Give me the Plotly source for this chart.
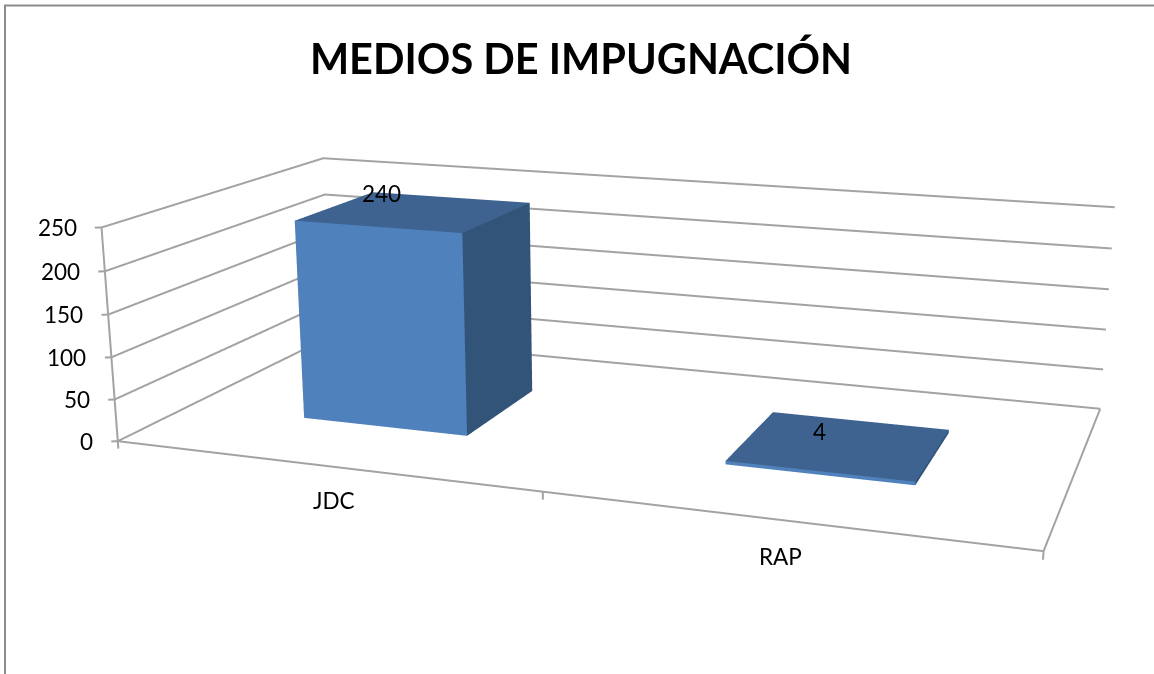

import numpy as np
import plotly.graph_objects as go

categories = ["JDC", "RAP"]
values = [240, 4]
z_ticks = [0, 50, 100, 150, 200, 250]
title_text = "MEDIOS DE IMPUGNACIÓN"

W, H = 1154, 674
# The reference is a long-lens view: plotly's fixed 45-degree field of view needs a tall scene,
# which is then slid up so that its optical centre lands where the reference has it.
FIG_W, FIG_H, TOP = 1289, 1570, 404

YAW, PITCH, ROLL = -0.3315, 0.2764, 0.0034
EYE = np.array([2.8921, -8.1067, 2.1564])
ASPECT = np.array([4.2165, 2.0596, 1.0])
FULL_LO, FULL_HI = np.array([0.0, 0.0, 0.0]), np.array([2.0, 1.0, 250.0])
SCENE_LO, SCENE_HI = np.array([-0.02, -0.01, -10.0]), np.array([2.02, 1.02, 255.0])
BAR_X, BAR_Y = (0.2973, 0.7020), (0.2986, 0.6860)

GRID, FRONT, SIDE, TOP_FACE = "#a3a3a3", "#4f81bd", "#325478", "#3e6390"
FONT = "Lato"

f = np.array([np.sin(YAW)*np.cos(PITCH), np.cos(YAW)*np.cos(PITCH), -np.sin(PITCH)])
r0 = np.array([np.cos(YAW), -np.sin(YAW), 0.0])
u0 = np.cross(r0, f)
v = -np.sin(ROLL)*r0 + np.cos(ROLL)*u0
unit = ASPECT/(FULL_HI-FULL_LO)
delta = ((SCENE_LO+SCENE_HI)/2-(FULL_LO+FULL_HI)/2)*unit
eye = EYE-delta
center = EYE+f*np.linalg.norm(EYE)-delta
aspect = unit*(SCENE_HI-SCENE_LO)

fig = go.Figure()
def line(xs, ys, zs):
    fig.add_trace(go.Scatter3d(x=xs, y=ys, z=zs, mode="lines", line=dict(color=GRID, width=4),
                               hoverinfo="skip", showlegend=False))
for t in z_ticks:
    line([0, 0, 2], [0, 1, 1], [t, t, t])
    line([0, -0.0122], [0, -0.0065], [t, t])
line([0, 0], [0, 0], [0, 250])
line([0, 2, 2], [0, 0, 1], [0, 0, 0])
for i in range(len(categories)+1):
    line([i, i], [0, 0], [0, -9])

for i, val in enumerate(values):
    a, b = BAR_X[0]+i, BAR_X[1]+i
    c, d = BAR_Y
    xs = [a, b, b, a, a, b, b, a]; ys = [c, c, d, d, c, c, d, d]; zs = [0, 0, 0, 0, val, val, val, val]
    I = [0, 0, 1, 1, 4, 4, 3, 3, 0, 0, 0, 0]
    J = [1, 5, 2, 6, 5, 6, 2, 6, 3, 7, 1, 2]
    K = [5, 4, 6, 5, 6, 7, 6, 7, 7, 4, 2, 3]
    cols = [FRONT]*2+[SIDE]*2+[TOP_FACE]*2+[TOP_FACE]*2+[SIDE]*2+[SIDE]*2
    fig.add_trace(go.Mesh3d(x=xs, y=ys, z=zs, i=I, j=J, k=K, facecolor=cols, flatshading=True,
                            lighting=dict(ambient=1, diffuse=0, specular=0, roughness=1, fresnel=0),
                            hoverinfo="skip", showlegend=False))

txt = dict(family=FONT, size=22.5, color="#000000")
ann = []
for t in z_ticks:
    ann.append(dict(x=0, y=0, z=t, text=str(t), showarrow=False, xanchor="right", xshift=-23, yshift=0, font=txt))
cat_shift = [(12, -35), (-2, -36)]
for i, cat in enumerate(categories):
    ann.append(dict(x=i+.5, y=0, z=0, text=cat, showarrow=False, xshift=cat_shift[i][0], yshift=cat_shift[i][1], font=txt))
val_shift = [(-35, 17), (-22, 12)]
for i, val in enumerate(values):
    ann.append(dict(x=i+.5, y=.5, z=val, text=str(val), showarrow=False, xshift=val_shift[i][0], yshift=val_shift[i][1], font=txt))

off = dict(visible=False)
def py(y): return 1-(y+TOP)/FIG_H
fig.update_layout(
    width=FIG_W, height=FIG_H, margin=dict(l=0, r=0, t=0, b=0), paper_bgcolor="white",
    title=dict(text="<b>"+title_text+"</b>", x=581/FIG_W, xanchor="center", y=py(59), yanchor="middle",
               font=dict(family=FONT, size=41.5, color="#000000")),
    scene=dict(domain=dict(x=[0, 1], y=[0, 1]), bgcolor="white", aspectmode="manual",
               aspectratio=dict(x=aspect[0], y=aspect[1], z=aspect[2]),
               camera=dict(eye=dict(x=eye[0], y=eye[1], z=eye[2]), center=dict(x=center[0], y=center[1], z=center[2]),
                           up=dict(x=v[0], y=v[1], z=v[2])),
               xaxis=dict(range=[SCENE_LO[0], SCENE_HI[0]], **off),
               yaxis=dict(range=[SCENE_LO[1], SCENE_HI[1]], **off),
               zaxis=dict(range=[SCENE_LO[2], SCENE_HI[2]], **off), annotations=ann),
    shapes=[dict(type="line", xref="paper", yref="paper", x0=4/FIG_W, x1=W/FIG_W, y0=py(5.5), y1=py(5.5), line=dict(color="#8c8c8c", width=2)),
            dict(type="line", xref="paper", yref="paper", x0=5/FIG_W, x1=5/FIG_W, y0=py(H), y1=py(5.5), line=dict(color="#8c8c8c", width=2))])
fig.write_html("out.html", config=dict(displayModeBar=False),
               post_script=f"document.documentElement.style.overflow='hidden';document.body.style.overflow='hidden';document.body.style.margin='0';document.body.style.marginTop='-{TOP}px';")
